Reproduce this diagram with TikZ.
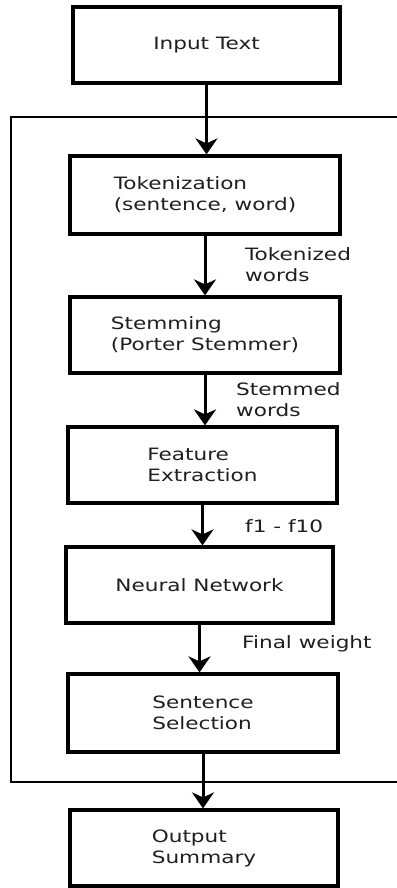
\documentclass[tikz,border=0pt]{standalone}
\usepackage{fontspec}
\setmainfont{DejaVu Sans}[FakeStretch=1.27]
\usetikzlibrary{arrows.meta}
\begin{document}
\begin{tikzpicture}[x=1pt,y=-1pt,
  stepbox/.style={draw=black, line width=3.2pt, minimum width=#1, align=left,
     font=\fontsize{17}{21}\selectfont, text=black!88, inner sep=0pt},
  lbl/.style={anchor=west, align=left, font=\fontsize{17}{21}\selectfont, text=black!88, inner sep=0pt},
  arr/.style={line width=3pt, -{Stealth[length=16pt,width=22pt,inset=5pt]}},
  frame/.style={line width=2.4pt}]
\useasboundingbox (0,0) rectangle (396,888);
\fill[white] (0,0) rectangle (396,888);
% boxes
\node[stepbox=267pt, minimum height=76pt] (in)   at (206.5,45)  {Input Text};
\node[stepbox=270pt, minimum height=78pt] (tok)  at (205,195)   {Tokenization\\(sentence, word)};
\node[stepbox=270pt, minimum height=76pt] (stem) at (205,335)   {Stemming\\(Porter Stemmer)};
\node[stepbox=269pt, minimum height=76pt] (feat) at (202.5,465) {Feature\\Extraction};
\node[stepbox=267pt, minimum height=76pt] (nn)   at (199.5,585) {Neural Network};
\node[stepbox=270pt, minimum height=78pt] (sel)  at (203,713)   {Sentence\\Selection};
\node[stepbox=268pt, minimum height=76pt] (out)  at (204,848)   {Output\\Summary};
% frame (right side lies outside the picture)
\draw[frame] (398,117) -- (11,117) -- (11,782) -- (398,782);
% arrows
\draw[arr] (in.south)   -- (in.south |- tok.north);
\draw[arr] (tok.south)  -- (tok.south |- stem.north);
\draw[arr] (stem.south) -- (stem.south |- feat.north);
\draw[arr] (feat.south) -- (feat.south |- nn.north);
\draw[arr] (nn.south)   -- (nn.south |- sel.north);
\draw[arr] (sel.south)  -- (sel.south |- out.north);
% labels
\node[lbl] (l1) at (245,265) {Tokenized\\words};
\node[lbl] (l2) at (236,400) {Stemmed\\words};
\node[lbl] (l3) at (245,526) {f1 - f10};
\node[lbl] (l4) at (242,644) {Final weight};
\end{tikzpicture}
\end{document}
